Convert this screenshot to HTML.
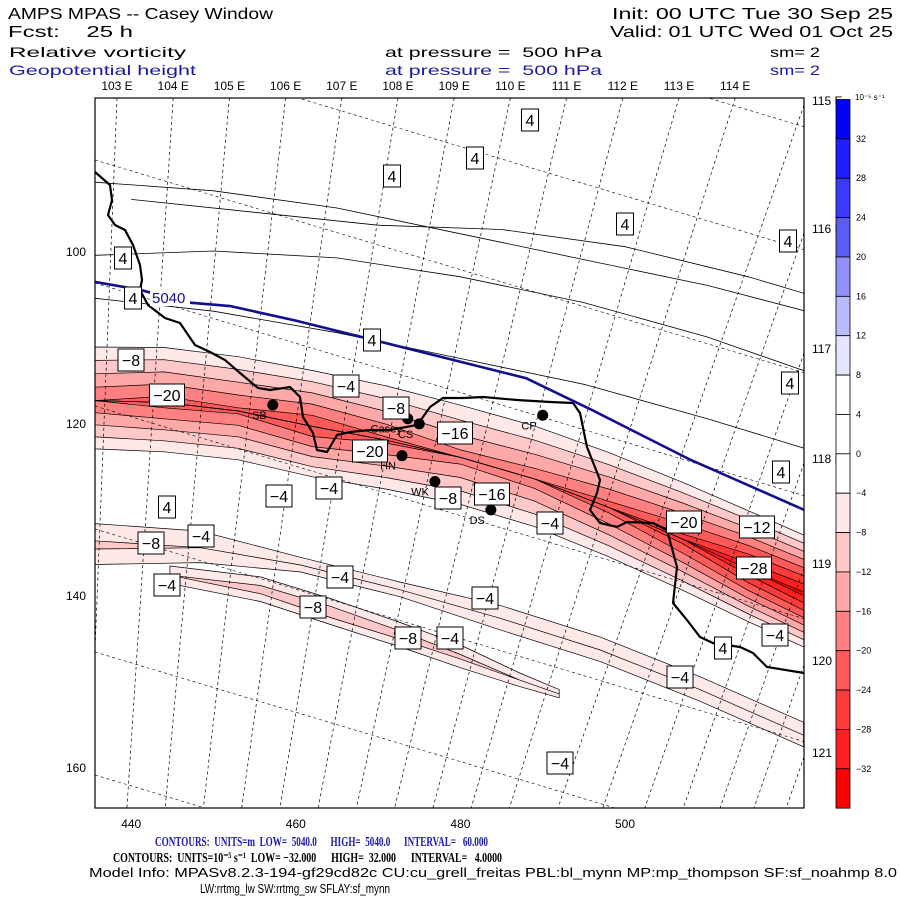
<!DOCTYPE html>
<html><head><meta charset="utf-8"><style>
html,body{margin:0;padding:0;background:#fff;width:900px;height:900px;overflow:hidden;}
svg{display:block;font-family:"Liberation Sans",sans-serif;}
text{white-space:pre;}
</style></head><body>
<svg id="chart" width="900" height="900" viewBox="0 0 900 900" xmlns="http://www.w3.org/2000/svg" xml:space="preserve">
<g font-size="16">
<text x="8" y="19" textLength="265" lengthAdjust="spacingAndGlyphs">AMPS MPAS -- Casey Window</text>
<text x="8" y="37" textLength="125" lengthAdjust="spacingAndGlyphs">Fcst:    25 h</text>
<text x="612" y="19" textLength="281" lengthAdjust="spacingAndGlyphs">Init: 00 UTC Tue 30 Sep 25</text>
<text x="610" y="37" textLength="283" lengthAdjust="spacingAndGlyphs">Valid: 01 UTC Wed 01 Oct 25</text>
<g font-size="14">
<text x="9" y="57" textLength="177" lengthAdjust="spacingAndGlyphs">Relative vorticity</text>
<text x="385" y="57" textLength="217" lengthAdjust="spacingAndGlyphs">at pressure =  500 hPa</text>
<text x="770" y="57" textLength="50" lengthAdjust="spacingAndGlyphs">sm= 2</text>
<text x="9" y="75" fill="#1a1aa6" textLength="187" lengthAdjust="spacingAndGlyphs">Geopotential height</text>
<text x="385" y="75" fill="#1a1aa6" textLength="217" lengthAdjust="spacingAndGlyphs">at pressure =  500 hPa</text>
<text x="770" y="75" fill="#1a1aa6" textLength="50" lengthAdjust="spacingAndGlyphs">sm= 2</text>
</g></g>
<defs><clipPath id="plotclip"><rect x="95" y="98" width="709" height="710"/></clipPath></defs>
<g id="plot" clip-path="url(#plotclip)"></g>
<rect x="95" y="98" width="709" height="710" fill="none" stroke="#000" stroke-width="1.2"/>
<g id="axes" font-size="12"></g>
<g id="cbar"></g>
<g>
<text x="155" y="846" font-family="Liberation Serif,serif" font-weight="bold" font-size="14" fill="#1a1aa6" textLength="333" lengthAdjust="spacingAndGlyphs">CONTOURS:  UNITS=m  LOW=  5040.0      HIGH=  5040.0      INTERVAL=   60.000</text>
<text x="113" y="862" font-family="Liberation Serif,serif" font-weight="bold" font-size="14" textLength="389" lengthAdjust="spacingAndGlyphs">CONTOURS:  UNITS=10⁻⁵ s⁻¹  LOW= −32.000      HIGH=  32.000      INTERVAL=   4.0000</text>
<text x="89" y="877" font-size="13" textLength="808" lengthAdjust="spacingAndGlyphs">Model Info: MPASv8.2.3-194-gf29cd82c CU:cu_grell_freitas PBL:bl_mynn MP:mp_thompson SF:sf_noahmp 8.0</text>
<text x="200" y="893" font-size="13" textLength="190" lengthAdjust="spacingAndGlyphs">LW:rrtmg_lw SW:rrtmg_sw SFLAY:sf_mynn</text>
</g>
<script>
// ---- data ----
const xTicks = [440, 460, 480, 500];
const yTicks = [100, 120, 140, 160];
const lonTopLabels = ["103 E","104 E","105 E","106 E","107 E","108 E","109 E","110 E","111 E","112 E","113 E","114 E"];
const lonRightLabels = ["115 E","116 E","117 E","118 E","119 E","120 E","121 E"];
const lonRightY = [105, 233, 353, 463, 568, 665, 757];
const cbarLevels = [32, 28, 24, 20, 16, 12, 8, 4, 0, -4, -8, -12, -16, -20, -24, -28, -32];
const cbarColors = ["#0000ff","#1f1fff","#3a3aff","#5c5cf4","#9090ff","#babaff","#e4e6ff","#ffffff","#ffffff","#ffffff","#ffe8e8","#ffc8c8","#ffa8a8","#ff8080","#ff5a5a","#ff3a3a","#ff2020","#ff0000"];
const fillLevels = [4, 8, 12, 16, 20, 24, 28, 32];
const fillColors = ["#ffe8e8","#ffc8c8","#ffa8a8","#ff8080","#ff5a5a","#ff3a3a","#ff2020","#ff0000"];
// main negative vorticity band
const mainX = [435.6, 444, 453, 462, 471, 480, 489, 498, 507, 515, 522];
const mainY = [117.4, 117.6, 118.6, 120.4, 122.0, 124.0, 126.5, 129.8, 133.5, 137.0, 140.0];
const mainPeak = [20, 22, 21, 24, 21, 18, 19, 22, 26, 31, 33];
// weak bands
const bandBX = [435.6, 448.4, 460.5, 472.7, 484.8, 497.0, 509.1, 521.7];
const bandBY = [134.2, 134.5, 136.5, 139.4, 142.7, 146.4, 151.0, 156.3];
const bandBPeak = [9, 7, 5, 5, 6, 6, 6, 6];
const bandCX = [444.7, 455.7, 464.2, 472.7, 480.0, 487.2, 492];
const bandCY = [137.7, 139.4, 142.0, 144.7, 147.2, 149.9, 151.5];
const bandCPeak = [7, 10, 11, 10, 9, 6, 5];
// 500 hPa height 5040 m contour
const hgtX = [435.6, 441, 447, 452, 460, 468, 478, 488, 496, 508, 522];
const hgtY = [103.6, 104.5, 106.0, 106.4, 108.1, 110.0, 112.4, 114.8, 118.5, 124.3, 130.2];
// positive vorticity thin contours
const posLines = [
  {x:[435.6,450,465,480,495,510,522], y:[92,93,95,98,101,104,107]},
  {x:[435.6,450,465,480,495,510,522], y:[100.5,100,100.8,103,106,110,114]},
  {x:[440,455,470,485,500,515,522], y:[94,95.5,97,97.5,99.5,103,105]},
  {x:[435.6,450,465,480,495,510,522], y:[105.5,107,109.5,112.5,115.5,119.5,123]}
];
// stations
const stnX = [457.2, 473.6, 475, 472.9, 476.9, 483.7, 490];
const stnY = [117.9, 119.5, 120.1, 123.8, 126.8, 130.1, 119.1];
const stnNames = ["SB","Casey","CS","HN","WK","DS","CP"];
// contour labels [px x, px y, text]
const cLabels = [[530,120,"4"],[475,158,"4"],[392,176,"4"],[625,224,"4"],[788,241,"4"],[123,258,"4"],[133,298,"4"],[372,340,"4"],[790,383,"4"],[781,472,"4"],[131,360,"-8"],[167,395,"-20"],[346,386,"-4"],[396,408,"-8"],[455,433,"-16"],[370,451,"-20"],[279,496,"-4"],[329,488,"-4"],[448,498,"-8"],[492,494,"-16"],[550,523,"-4"],[684,522,"-20"],[757,527,"-12"],[754,568,"-28"],[167,507,"4"],[201,536,"-4"],[151,543,"-8"],[167,585,"-4"],[340,577,"-4"],[313,607,"-8"],[485,598,"-4"],[408,638,"-8"],[450,638,"-4"],[723,648,"4"],[775,635,"-4"],[680,677,"-4"],[560,763,"-4"]];
// coastline (pixel trace of map outline)
const coastPx = [[95,172],[110,185],[112,200],[108,215],[115,225],[125,230],[133,245],[140,265],[142,280],[140,290],[148,305],[165,318],[180,323],[195,345],[210,352],[225,360],[240,373],[258,388],[270,390],[290,387],[300,397],[303,417],[313,433],[317,450],[327,452],[337,435],[350,432],[370,430],[390,430],[417,425],[423,417],[430,407],[443,398],[463,398],[483,397],[517,400],[550,402],[573,403],[580,413],[587,447],[600,480],[597,493],[590,510],[600,523],[617,527],[627,522],[653,523],[667,530],[677,567],[673,603],[687,620],[700,637],[713,643],[740,647],[753,653],[767,667],[804,673]];

// ---- scales ----
const sx = v => 95 + (v - 435.6) * 8.23;
const sy = v => 251 + (v - 100) * 8.6;
const NS = "http://www.w3.org/2000/svg";
function mk(tag, attrs, parent){const e=document.createElementNS(NS,tag);for(const k in attrs)e.setAttribute(k,attrs[k]);parent.appendChild(e);return e;}
const plot = document.getElementById('plot');
const axes = document.getElementById('axes');
const cbar = document.getElementById('cbar');

function drawBand(xs, ys, peaks, W, name){
  fillLevels.forEach((L, li) => {
    if (peaks.every(p => p <= L)) return;
    const top = [], bot = [];
    xs.forEach((x, i) => {
      const hw = Math.max(0, W * (peaks[i] - L) / peaks[i]);
      top.push(sx(x).toFixed(1) + ',' + sy(ys[i] - hw).toFixed(1));
      bot.unshift(sx(x).toFixed(1) + ',' + sy(ys[i] + hw * 0.9).toFixed(1));
    });
    const p = mk('polygon', {points: top.concat(bot).join(' '), fill: fillColors[li], stroke: '#000', 'stroke-width': 0.7}, plot);
    
    
  });
}
drawBand(bandBX, bandBY, bandBPeak, 4.5, 'weak-band-b');
drawBand(bandCX, bandCY, bandCPeak, 2.5, 'weak-band-c');
drawBand(mainX, mainY, mainPeak, 7.8, 'main-band');

posLines.forEach((ln, k) => {
  const pl = mk('polyline', {points: ln.x.map((x,i)=>sx(x)+','+sy(ln.y[i])).join(' '), fill:'none', stroke:'#000', 'stroke-width':0.8}, plot);
  
  
});

// graticule
lonTopLabels.forEach((lb, i) => {
  const xt = 117 + 56.2 * i;
  const t = 0.03 + 0.00045 * (xt - 95);
  const ln = mk('line', {x1: xt, y1: 98, x2: xt - t * 710, y2: 808, stroke:'#000', 'stroke-width':0.7, 'stroke-dasharray':'3,3'}, plot);
  
  
});
lonRightY.forEach((y, i) => {
  const ln = mk('line', {x1: 804, y1: y, x2: 804 - (808 - y) * 0.35, y2: 808, stroke:'#000', 'stroke-width':0.7, 'stroke-dasharray':'3,3'}, plot);
  
  
});
for (let k = -6; k < 6; k++) {
  const y0 = 160 + k * 123;
  const ln = mk('line', {x1: 95, y1: y0, x2: 804, y2: y0 + 709 * 0.3, stroke:'#000', 'stroke-width':0.6, 'stroke-dasharray':'3,3'}, plot);
  
  
}

const coast = mk('polyline', {points: coastPx.map(p=>p[0]+','+p[1]).join(' '), fill:'none', stroke:'#000', 'stroke-width':2.2}, plot);



const hg = mk('polyline', {points: hgtX.map((x,i)=>sx(x)+','+sy(hgtY[i])).join(' '), fill:'none', stroke:'#101090', 'stroke-width':2.6}, plot);


const hlb = mk('rect', {x: 150, y: 288, width: 40, height: 18, fill:'#fff'}, plot);


const hl = mk('text', {x: 152, y: 303, 'font-size': 15, fill:'#101090'}, plot);
hl.textContent = '5040';



stnX.forEach((x, i) => {
  const c = mk('circle', {cx: sx(x), cy: sy(stnY[i]), r: 5.5, fill:'#000'}, plot);
  
  
  const t = mk('text', {x: sx(x) - 6, y: sy(stnY[i]) + 14, 'font-size': 11, 'text-anchor':'end'}, plot);
  t.textContent = stnNames[i];
  
  
});

cLabels.forEach(l => {
  const w = l[2].length * 9 + 8;
  const g = mk('g', {}, plot);
  
  
  mk('rect', {x: l[0] - w/2, y: l[1] - 11, width: w, height: 22, fill:'#fff', stroke:'#000', 'stroke-width':1}, g);
  const t = mk('text', {x: l[0], y: l[1] + 6, 'font-size': 16, 'text-anchor':'middle'}, g);
  t.textContent = l[2].replace('-', '\u2212');
});

// axes
xTicks.forEach(v => {
  const t = mk('text', {x: sx(v), y: 828, 'text-anchor':'middle'}, axes);
  t.textContent = v;
  
  
});
yTicks.forEach(v => {
  const t = mk('text', {x: 86, y: sy(v) + 5, 'text-anchor':'end'}, axes);
  t.textContent = v;
  
  
});
lonTopLabels.forEach((lb, i) => {
  const t = mk('text', {x: 117 + 56.2 * i, y: 90, 'text-anchor':'middle'}, axes);
  t.textContent = lb;
  
  
});
lonRightLabels.forEach((lb, i) => {
  const t = mk('text', {x: 812, y: lonRightY[i], 'font-size': 12}, axes);
  t.textContent = lb;
  
  
});

// colorbar
const cbTop = 99.5, segH = 39.37;
cbarColors.forEach((c, i) => {
  const r = mk('rect', {x: 836, y: cbTop + i * segH, width: 14, height: segH, fill: c, stroke:'#000', 'stroke-width':0.8}, cbar);
  
  
});
cbarLevels.forEach((v, i) => {
  const t = mk('text', {x: 856, y: cbTop + (i + 1) * segH + 3, 'font-size': 9}, cbar);
  t.textContent = String(v).replace('-', '\u2212');
  
  
});
const ut = mk('text', {x: 855, y: 100, 'font-size': 8}, cbar);
ut.textContent = '10\u207B\u2075 s\u207B\u00B9';


</script>
</svg>
</body></html>
